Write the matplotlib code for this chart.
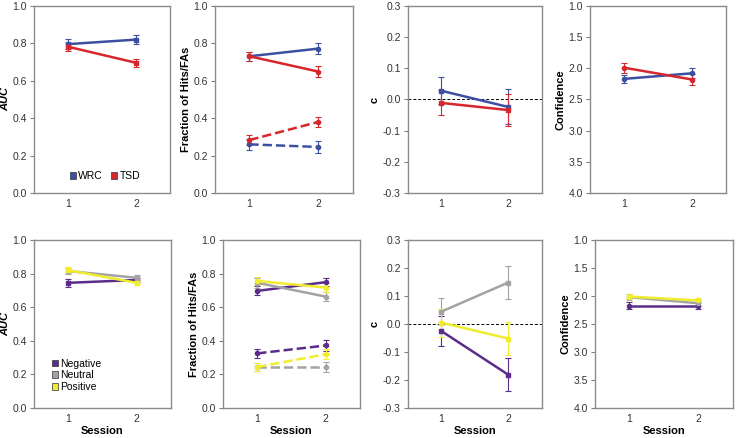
import numpy as np
import matplotlib
matplotlib.use('Agg')
import matplotlib.pyplot as plt
from matplotlib.patches import Patch

plt.rcParams['font.family'] = ['Liberation Sans', 'DejaVu Sans']

sessions = [1, 2]

# top row: WRC vs TSD
grp_names = ['WRC', 'TSD']
grp_colors = ['#3d4fa1', '#d7262c']
auc_top = [[0.796, 0.820], [0.782, 0.696]]
auc_top_err = [[0.025, 0.026], [0.022, 0.021]]
hits_top = [[0.731, 0.772], [0.731, 0.649]]
hits_top_err = [[0.025, 0.029], [0.025, 0.030]]
fas_top = [[0.260, 0.246], [0.283, 0.380]]
fas_top_err = [[0.028, 0.030], [0.025, 0.027]]
c_top = [[0.028, -0.024], [-0.011, -0.034]]
c_top_err = [[0.044, 0.056], [0.040, 0.050]]
conf_top = [[2.17, 2.08], [1.99, 2.18]]
conf_top_err = [[0.07, 0.08], [0.08, 0.09]]

# bottom row: emotion conditions
emo_names = ['Negative', 'Neutral', 'Positive']
emo_colors = ['#5b2d8a', '#a3a3a3', '#f1ec2e']
auc_bot = [[0.745, 0.762], [0.815, 0.775], [0.820, 0.745]]
auc_bot_err = [[0.022, 0.012], [0.020, 0.015], [0.018, 0.015]]
hits_bot = [[0.697, 0.749], [0.745, 0.663], [0.756, 0.717]]
hits_bot_err = [[0.027, 0.025], [0.028, 0.028], [0.025, 0.027]]
fas_bot = [[0.325, 0.372], [0.244, 0.244], [0.244, 0.320]]
fas_bot_err = [[0.028, 0.030], [0.025, 0.028], [0.025, 0.030]]
c_bot = [[-0.025, -0.181], [0.044, 0.148], [0.005, -0.052]]
c_bot_err = [[0.053, 0.058], [0.048, 0.060], [0.050, 0.060]]
conf_bot = [[2.17, 2.17], [2.02, 2.13], [2.01, 2.08]]
conf_bot_err = [[0.07, 0.07], [0.05, 0.05], [0.05, 0.05]]

fig = plt.figure(figsize=(7.36, 4.38), dpi=100)

top_pos = [[0.0462, 0.5594, 0.185, 0.427], [0.292, 0.5594, 0.1875, 0.427],
           [0.554, 0.5594, 0.182, 0.427], [0.8016, 0.5594, 0.185, 0.427]]
bot_pos = [[0.0462, 0.0685, 0.186, 0.3836], [0.303, 0.0685, 0.186, 0.3836],
           [0.554, 0.0685, 0.182, 0.3836], [0.808, 0.0685, 0.1875, 0.3836]]


def style(ax, ylim, yticks, ylabel, italic=False, xlabel=None):
    ax.set_xlim(0.5, 2.5)
    ax.set_ylim(*ylim)
    ax.set_yticks(yticks)
    ax.set_xticks(sessions)
    ax.set_yticklabels(['%.1f' % t for t in yticks])
    ax.tick_params(axis='y', direction='out', length=3, color='#808080',
                   labelsize=7.5, labelcolor='#333333', pad=2)
    ax.tick_params(axis='x', length=0, labelsize=7.5, labelcolor='#333333', pad=4)
    for s in ax.spines.values():
        s.set_color('#8c8c8c')
        s.set_linewidth(1.0)
    ax.set_ylabel(ylabel, fontsize=8, fontweight='bold',
                  style='italic' if italic else 'normal', labelpad=2)
    if xlabel:
        ax.set_xlabel(xlabel, fontsize=8, fontweight='bold', labelpad=2)


def draw(ax, vals, errs, colors, ls='-', marker='s'):
    for v, e, c in zip(vals, errs, colors):
        ax.errorbar(sessions, v, yerr=e, color=c, lw=1.8, ls=ls, marker=marker,
                    ms=3, elinewidth=0.8, capsize=2, capthick=0.8)


c_ticks = [-0.3, -0.2, -0.1, 0.0, 0.1, 0.2, 0.3]
unit_ticks = [0.0, 0.2, 0.4, 0.6, 0.8, 1.0]
conf_ticks = [1.0, 1.5, 2.0, 2.5, 3.0, 3.5, 4.0]

# ---- top row
ax = fig.add_axes(top_pos[0])
draw(ax, auc_top, auc_top_err, grp_colors)
style(ax, (0, 1), unit_ticks, 'AUC', italic=True)
handles = [Patch(facecolor=c, edgecolor='#333333', lw=0.5) for c in grp_colors]
ax.legend(handles, grp_names, loc='center', bbox_to_anchor=(0.52, 0.09), ncol=2,
          frameon=False, fontsize=7.5, handlelength=0.6, handleheight=0.6,
          handletextpad=0.2, columnspacing=0.8)

ax = fig.add_axes(top_pos[1])
draw(ax, hits_top, hits_top_err, grp_colors, marker='o')
draw(ax, fas_top, fas_top_err, grp_colors, ls='--', marker='o')
style(ax, (0, 1), unit_ticks, 'Fraction of Hits/FAs')

ax = fig.add_axes(top_pos[2])
ax.axhline(0, color='black', lw=0.7, ls=(0, (3, 2)))
draw(ax, c_top, c_top_err, grp_colors)
style(ax, (-0.3, 0.3), c_ticks, 'c')

ax = fig.add_axes(top_pos[3])
draw(ax, conf_top, conf_top_err, grp_colors, marker='o')
style(ax, (4.0, 1.0), conf_ticks, 'Confidence')

# ---- bottom row
ax = fig.add_axes(bot_pos[0])
draw(ax, auc_bot, auc_bot_err, emo_colors)
style(ax, (0, 1), unit_ticks, 'AUC', italic=True, xlabel='Session')
handles = [Patch(facecolor=c, edgecolor='#333333', lw=0.5) for c in emo_colors]
ax.legend(handles, emo_names, loc='lower left', bbox_to_anchor=(0.06, 0.04),
          frameon=False, fontsize=7.5, handlelength=0.6, handleheight=0.6,
          handletextpad=0.2, labelspacing=0.15)

ax = fig.add_axes(bot_pos[1])
draw(ax, hits_bot, hits_bot_err, emo_colors, marker='o')
draw(ax, fas_bot, fas_bot_err, emo_colors, ls='--', marker='o')
style(ax, (0, 1), unit_ticks, 'Fraction of Hits/FAs', xlabel='Session')

ax = fig.add_axes(bot_pos[2])
ax.axhline(0, color='black', lw=0.7, ls=(0, (3, 2)))
draw(ax, c_bot, c_bot_err, emo_colors)
style(ax, (-0.3, 0.3), c_ticks, 'c', xlabel='Session')

ax = fig.add_axes(bot_pos[3])
draw(ax, conf_bot, conf_bot_err, emo_colors, marker='o')
style(ax, (4.0, 1.0), conf_ticks, 'Confidence', xlabel='Session')

fig.savefig('out.png', dpi=100)
